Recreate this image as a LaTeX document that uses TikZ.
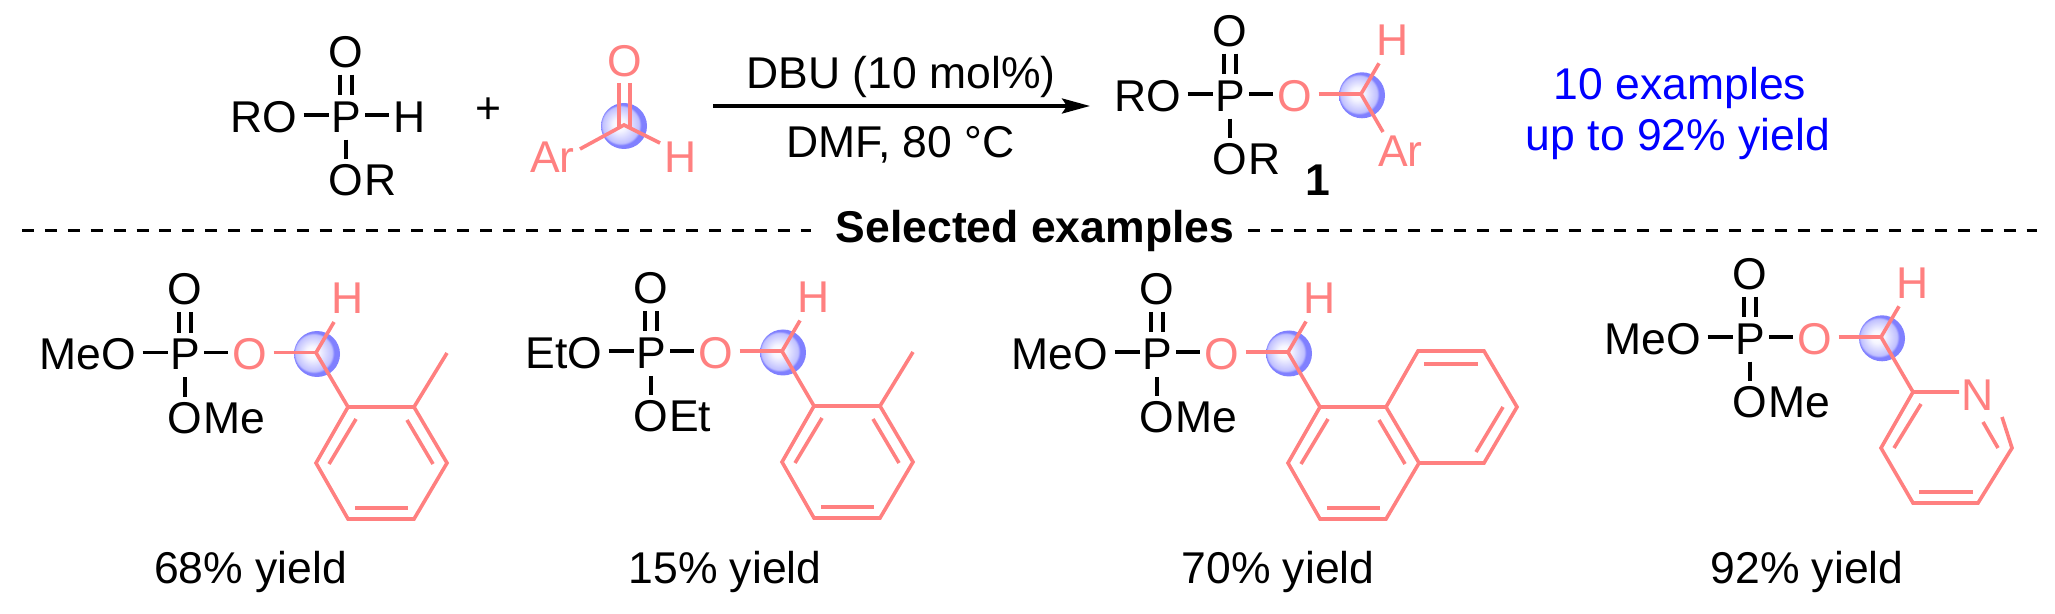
\documentclass[tikz,border=0pt]{standalone}
\usepackage{fontspec}
\setmainfont{Liberation Sans}
\usetikzlibrary{arrows.meta}
\newcommand{\fsz}{\fontsize{22.25}{26}\selectfont}
\definecolor{pinkc}{HTML}{FF8080}
\definecolor{rimc}{HTML}{8080FF}
\definecolor{bluec}{HTML}{0000FF}
\pgfdeclareradialshading{orb}{\pgfpoint{-6bp}{2bp}}{color(0bp)=(white); color(7bp)=(white!92!rimc); color(20bp)=(rimc!50!white); color(22bp)=(rimc); color(25bp)=(rimc); color(50bp)=(rimc)}
\tikzset{
  atom/.style={inner sep=0pt,text height=17.3pt,text depth=0pt,font=\fsz},
  label/.style={inner sep=0pt,anchor=base,font=\fsz},
  pinkatom/.style={atom,text=pinkc},
  pinklabel/.style={label,text=pinkc},
  bond/.style={line width=1.8pt,black},
  pbond/.style={line width=1.8pt,pinkc},
  orbball/.style={shading=orb},
}
% phosphorus core: prefix, dx, dy, left group, right group after O
\newcommand{\phoscore}[5]{%
\begin{scope}[shift={(#2,#3)}]
  \node[atom] (#1P) at (185,352.7) {P};
  \node[atom] (#1Ot) at (185,287.7) {O};
  \node[atom] (#1Ob) at (185,415.7) {O};
  \node[atom,anchor=west] (#1Rb) at (#1Ob.east) {#5};
  \node[atom,anchor=east] (#1L) at (136.5,352.7) {#4};
  \draw[bond,shorten <=3.5pt,shorten >=1.2pt] ([xshift=-3pt]#1Ot.south) -- ([xshift=-3pt]#1P.north);
  \draw[bond,shorten <=3.5pt,shorten >=1.2pt] ([xshift=3pt]#1Ot.south) -- ([xshift=3pt]#1P.north);
  \draw[bond,shorten <=3.5pt,shorten >=0.7pt] (#1P.south) -- (#1Ob.north);
  \draw[bond,shorten <=3pt,shorten >=1pt] (#1L.east) -- (#1P.west);
\end{scope}}
% benzylic part: prefix, dx, dy
\newcommand{\esterpart}[3]{%
\begin{scope}[shift={(#2,#3)}]
  \shade[orbball] (317,354) circle [radius=11.5pt];
  \node[pinkatom] (#1O) at (250,352.7) {O};
  \node[pinkatom] (#1H) at (348,296.7) {H};
  \coordinate (#1C) at (316,352.7);
  \coordinate (#1Hb) at (334,322);
  \draw[bond,shorten <=2pt,shorten >=2pt] (#1P.east) -- (#1O.west);
  \draw[pbond,shorten <=3pt] (#1O.east) -- (#1C);
  \draw[pbond] (#1C) -- (#1Hb);
\end{scope}}
% lower-left ring atoms common to the examples
\newcommand{\ringpts}[3]{%
\begin{scope}[shift={(#2,#3)}]
  \coordinate (#1a) at (348,407);
  \coordinate (#1b) at (414,407);
  \coordinate (#1c) at (447,463);
  \coordinate (#1d) at (414,519);
  \coordinate (#1e) at (348,519);
  \coordinate (#1f) at (316,463);
  \coordinate (#1i1) at (356,419);
  \coordinate (#1i2) at (329,464);
  \coordinate (#1i3) at (407,420);
  \coordinate (#1i4) at (433,464);
  \coordinate (#1i5) at (355,508);
  \coordinate (#1i6) at (408,508);
  \draw[pbond] (#1C) -- (#1a);
  \draw[pbond] (#1a) -- (#1b) -- (#1c) -- (#1d) -- (#1e) -- (#1f) -- cycle;
  \draw[pbond] (#1i1) -- (#1i2);
  \draw[pbond] (#1i3) -- (#1i4);
  \draw[pbond] (#1i5) -- (#1i6);
\end{scope}}
\newcommand{\methyl}[3]{%
\begin{scope}[shift={(#2,#3)}]
  \coordinate (#1m) at (447,353);
  \draw[pbond] (#1b) -- (#1m);
\end{scope}}
\begin{document}
\begin{tikzpicture}[x=0.5pt,y=-0.5pt]
\useasboundingbox (0,0) rectangle (2055,614);

% --- top reactant
\phoscore{r}{161}{-237.7}{RO}{R}
\node[atom] (rH) at (409.6,115) {H};
\draw[bond,shorten <=2pt,shorten >=2pt] (rP.east) -- (rH.west);
\node[label] (plus) at (488.5,124) {+};

% --- aldehyde
\shade[orbball] (624,126) circle [radius=11.5pt];
\coordinate (aC) at (624,125);
\node[pinklabel] (aO) at (624.6,77) {O};
\node[pinklabel] (aAr) at (552.5,172.7) {Ar};
\node[pinklabel] (aH) at (680.5,172.7) {H};
\coordinate (aAe) at (580,149);
\coordinate (aHe) at (660,143);
\coordinate (ad1t) at (619,83);
\coordinate (ad1b) at (619,127.5);
\coordinate (ad2t) at (630,83);
\coordinate (ad2b) at (630,127.5);
\draw[pbond] (ad1t) -- (ad1b);
\draw[pbond] (ad2t) -- (ad2b);
\draw[pbond] (aAe) -- (aC) -- (aHe);

% --- arrow and conditions
\coordinate (arS) at (713,106);
\coordinate (arE) at (1090,106);
\draw[line width=1.8pt,black,-{Stealth[length=14pt,width=7.5pt,inset=2.5pt]}] (arS) -- (arE);
\node[label] (cond1) at (901,89) {DBU (10 mol\%)};
\node[label] (cond2) at (900.5,158) {DMF, 80 °C};

% --- product
\phoscore{p}{1045}{-258.7}{RO}{R}
\esterpart{p}{1045}{-258.7}
\node[pinklabel] (pAr) at (1400.5,166.7) {Ar};
\coordinate (pAe) at (1383,132);
\draw[pbond] (pC) -- (pAe);
\node[label,font=\fsz\bfseries] (one) at (1318,195.7) {1};
\node[label,text=bluec] (blue1) at (1680,100) {10 examples};
\node[label,text=bluec] (blue2) at (1678,151) {up to 92\% yield};

% --- separator
\node[label,font=\fsz\bfseries] (sel) at (1035,243) {Selected examples};
\coordinate (dl1) at (22,230.7);
\coordinate (dl2) at (811,230.7);
\coordinate (dr1) at (1248,230.7);
\coordinate (dr2) at (2037,230.7);
\draw[line width=1.8pt,dash pattern=on 6pt off 5.45pt] (dl1) -- (dl2);
\draw[line width=1.8pt,dash pattern=on 6pt off 5.45pt] (dr1) -- (dr2);

% --- example 1
\phoscore{u}{0}{0}{MeO}{Me}
\esterpart{u}{0}{0}
\ringpts{u}{0}{0}
\methyl{u}{0}{0}
\node[label] (y1) at (250.5,583) {68\% yield};

% --- example 2
\phoscore{v}{466}{-1.5}{EtO}{Et}
\esterpart{v}{466}{-1.5}
\ringpts{v}{466}{-1}
\methyl{v}{466}{-1}
\node[label] (y2) at (725,583) {15\% yield};

% --- example 3
\phoscore{w}{972}{-0.5}{MeO}{Me}
\esterpart{w}{972}{-0.5}
\ringpts{w}{972}{0}
\coordinate (wg) at (1418,351);
\coordinate (wh) at (1484,351);
\coordinate (wi) at (1517,407);
\coordinate (wj) at (1484,463);
\coordinate (wk1) at (1424,364);
\coordinate (wk2) at (1478,364);
\coordinate (wk3) at (1503,407);
\coordinate (wk4) at (1476,452);
\draw[pbond] (wb) -- (wg) -- (wh) -- (wi) -- (wj) -- (wc);
\draw[pbond] (wk1) -- (wk2);
\draw[pbond] (wk3) -- (wk4);
\node[label] (y3) at (1278,583) {70\% yield};

% --- example 4
\phoscore{x}{1565}{-15.7}{MeO}{Me}
\esterpart{x}{1565}{-15.7}
\coordinate (xa) at (1913,392);
\node[pinklabel] (xN) at (1978,410) {N};
\coordinate (xae) at (1959,392);
\coordinate (xn1) at (2002,417);
\coordinate (xc) at (2012,448);
\coordinate (xd) at (1978,503);
\coordinate (xe) at (1913,503);
\coordinate (xf) at (1881,448);
\coordinate (xi1) at (1983,422);
\coordinate (xi2) at (1998,448);
\coordinate (xi3) at (1921,404);
\coordinate (xi4) at (1894,448);
\coordinate (xi5) at (1919,492);
\coordinate (xi6) at (1973,492);
\draw[pbond] (xC) -- (xa);
\draw[pbond] (xae) -- (xa) -- (xf) -- (xe) -- (xd) -- (xc) -- (xn1);
\draw[pbond] (xi1) -- (xi2);
\draw[pbond] (xi3) -- (xi4);
\draw[pbond] (xi5) -- (xi6);
\node[label] (y4) at (1807,583) {92\% yield};
\end{tikzpicture}
\end{document}
